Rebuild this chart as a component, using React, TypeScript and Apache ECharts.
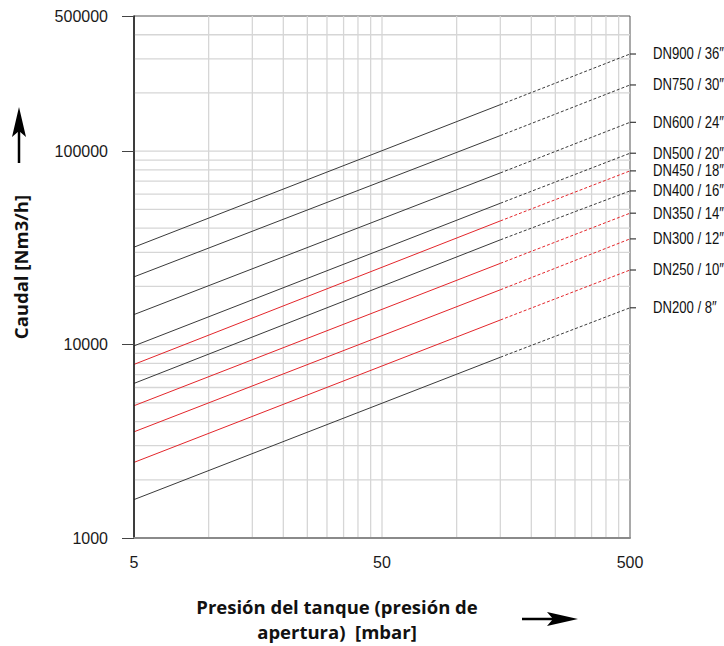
import React, { useEffect, useRef } from "react";
import * as echarts from "echarts";

// ---- data ----
const seriesNames = [
  "DN900 / 36″",
  "DN750 / 30″",
  "DN600 / 24″",
  "DN500 / 20″",
  "DN450 / 18″",
  "DN400 / 16″",
  "DN350 / 14″",
  "DN300 / 12″",
  "DN250 / 10″",
  "DN200 / 8″",
];
const redSeries = [false, false, false, false, true, false, true, true, true, false];
// pressures [mbar]: start, end of solid part, end of dashed part
const pressures = [5, 150, 500];
const flowAt5 = [31900, 22400, 14300, 9850, 7900, 6300, 4830, 3540, 2460, 1580];
const flowAt150 = [174000, 120400, 77200, 53800, 43600, 34800, 26300, 19200, 13400, 8600];
const flowAt500 = [318000, 220000, 141000, 97600, 79100, 62300, 47800, 35200, 24300, 15500];

const xTickLabels = ["5", "50", "500"];
const xGridValues = [10, 15, 20, 25, 30, 35, 40, 45, 50, 100, 150, 200, 250, 300, 350, 400, 450];
const yGridValues = [
  2000, 3000, 4000, 5000, 6000, 7000, 8000, 9000, 10000,
  20000, 30000, 40000, 50000, 60000, 70000, 80000, 90000, 100000,
  200000, 300000, 400000,
];
const xMin = 5;
const xMax = 500;
const yMin = 1000;
const yMax = 500000;

const yTitle = "Caudal [Nm3/h]";
const xTitle = "Presión del tanque (presión de\napertura)  [mbar]";

// ---- styles ----
const LABEL_FONT = "'Liberation Sans', Arial, sans-serif";
const BOLD = "'Open Sans', 'Noto Sans', sans-serif";
const DARK = "#3a3a3a";
const RED = "#e3262b";
const GRID = "#d6d6d6";

function buildBaseGraphics(): any[] {
  return [
    {
      type: "text",
      x: 20,
      y: 267,
      rotation: Math.PI / 2,
      style: {
        text: yTitle,
        font: `bold 18.5px ${BOLD}`,
        align: "center",
        verticalAlign: "middle",
        fill: "#111",
      },
    },
    {
      type: "text",
      x: 337,
      y: 619,
      style: {
        text: xTitle,
        font: `bold 18.5px ${BOLD}`,
        lineHeight: 25,
        align: "center",
        verticalAlign: "middle",
        fill: "#111",
      },
    },
    // y arrow
    {
      type: "line",
      shape: { x1: 19, y1: 163, x2: 19, y2: 128 },
      style: { stroke: "#000", lineWidth: 2.5 },
    },
    {
      type: "polygon",
      shape: { points: [[19, 107], [26, 137], [19, 131], [12, 137]] },
      style: { fill: "#000" },
    },
    // x arrow
    {
      type: "line",
      shape: { x1: 522, y1: 619, x2: 556, y2: 619 },
      style: { stroke: "#000", lineWidth: 2.5 },
    },
    {
      type: "polygon",
      shape: { points: [[578, 619], [547, 612], [553, 619], [547, 626]] },
      style: { fill: "#000" },
    },
  ];
}

function buildOption() {
  const series: any[] = [];
  xGridValues.forEach((x) => {
    series.push({
      type: "line",
      silent: true,
      symbol: "none",
      z: 1,
      lineStyle: { color: GRID, width: 1.3 },
      data: [
        [x, yMin],
        [x, yMax],
      ],
    });
  });
  yGridValues.forEach((y) => {
    series.push({
      type: "line",
      silent: true,
      symbol: "none",
      z: 1,
      lineStyle: { color: GRID, width: 1.3 },
      data: [
        [xMin, y],
        [xMax, y],
      ],
    });
  });
  seriesNames.forEach((name, i) => {
    const color = redSeries[i] ? RED : DARK;
    series.push({
      type: "line",
      name,
      silent: true,
      symbol: "none",
      z: 3,
      lineStyle: { color, width: 1 },
      data: [
        [pressures[0], flowAt5[i]],
        [pressures[1], flowAt150[i]],
      ],
    });
    series.push({
      type: "line",
      name,
      silent: true,
      symbol: "rect",
      symbolSize: [6, 1.2],
      symbolOffset: [3, 0],
      showSymbol: true,
      z: 3,
      itemStyle: { color: DARK },
      lineStyle: { color, width: 1, type: [3, 2] },
      data: [
        { value: [pressures[1], flowAt150[i]], symbol: "none" },
        { value: [pressures[2], flowAt500[i]] },
      ],
    });
  });

  return {
    animation: false,
    grid: {
      left: 134,
      right: 94,
      top: 16,
      bottom: 108,
      show: true,
      borderColor: "#555",
      borderWidth: 1,
      containLabel: false,
    },
    xAxis: [
      {
        type: "log",
        logBase: 10,
        min: xMin,
        max: xMax,
        axisLine: { show: true, onZero: false, lineStyle: { color: "#8a8a8a", width: 2 } },
        axisTick: { show: false },
        axisLabel: { show: false },
        splitLine: { show: false },
        z: 5,
      },
      {
        type: "value",
        position: "bottom",
        min: 0,
        max: 2,
        interval: 1,
        axisLine: { show: false },
        axisTick: { show: false },
        splitLine: { show: false },
        axisLabel: {
          formatter: (v: number) => xTickLabels[Math.round(v)] ?? "",
          margin: 16,
          fontSize: 16,
          color: "#1a1a1a",
          fontFamily: LABEL_FONT,
        },
      },
    ],
    yAxis: {
      type: "log",
      logBase: 10,
      min: yMin,
      max: yMax,
      axisLine: { show: true, onZero: false, lineStyle: { color: "#1a1a1a", width: 1.5 } },
      axisTick: { show: true, length: 12, lineStyle: { color: "#444", width: 1 } },
      axisLabel: {
        formatter: (v: number) => String(Math.round(v)),
        margin: 26,
        fontSize: 16,
        color: "#1a1a1a",
        fontFamily: LABEL_FONT,
      },
      splitLine: { show: false },
      z: 5,
    },
    graphic: buildBaseGraphics(),
    series,
  };
}

export default function App() {
  const ref = useRef<HTMLDivElement>(null);
  useEffect(() => {
    if (!ref.current) return;
    const chart = echarts.init(ref.current, null, { renderer: "svg" });
    chart.setOption(buildOption() as any);
    // right-hand DN labels, placed at the end of each line through the chart's own scales
    const labels = seriesNames.map((name, i) => {
      const pt = chart.convertToPixel({ xAxisIndex: 0, yAxisIndex: 0 }, [
        pressures[2],
        flowAt500[i],
      ]) as number[];
      return {
        type: "text",
        x: pt[0] + 23,
        y: pt[1],
        scaleX: 0.82,
        style: {
          text: name,
          font: `16px ${LABEL_FONT}`,
          align: "left",
          verticalAlign: "middle",
          fill: "#111",
        },
      };
    });
    chart.setOption({ graphic: buildBaseGraphics().concat(labels) } as any);
    return () => chart.dispose();
  }, []);
  return (
    <div
      ref={ref}
      style={{ position: "absolute", left: 0, top: 0, width: 724, height: 646 }}
    />
  );
}
